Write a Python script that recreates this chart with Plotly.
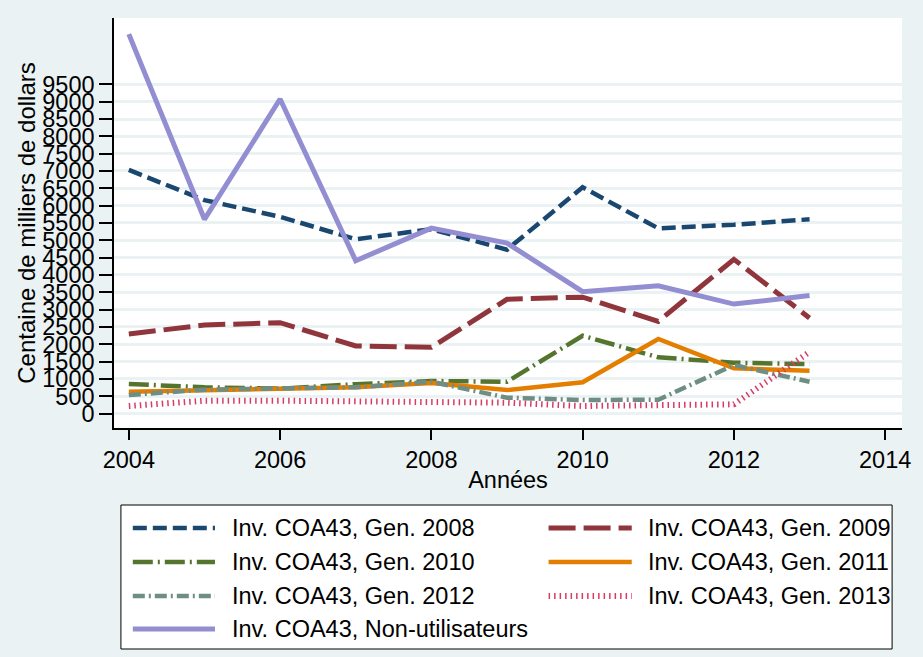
import plotly.graph_objects as go

years = [2004, 2005, 2006, 2007, 2008, 2009, 2010, 2011, 2012, 2013]

gen2008 = [7030, 6160, 5680, 5030, 5320, 4730, 6530, 5346, 5450, 5606]
gen2009 = [2296, 2556, 2623, 1950, 1913, 3298, 3360, 2660, 4451, 2760]
gen2010 = [854, 760, 720, 850, 940, 920, 2247, 1624, 1469, 1425]
gen2011 = [632, 680, 700, 760, 880, 681, 903, 2152, 1307, 1235]
gen2012 = [537, 690, 728, 760, 920, 459, 392, 400, 1402, 920]
gen2013 = [219, 372, 372, 340, 315, 315, 219, 240, 268, 1780]
nonutil = [10950, 5606, 9076, 4411, 5350, 4920, 3517, 3690, 3160, 3405]

names = [
    "Inv. COA43, Gen. 2008",
    "Inv. COA43, Gen. 2009",
    "Inv. COA43, Gen. 2010",
    "Inv. COA43, Gen. 2011",
    "Inv. COA43, Gen. 2012",
    "Inv. COA43, Gen. 2013",
    "Inv. COA43, Non-utilisateurs",
]
series = [gen2008, gen2009, gen2010, gen2011, gen2012, gen2013, nonutil]

y_ticks = list(range(0, 10000, 500))
x_ticks = [2004, 2006, 2008, 2010, 2012, 2014]

colors = ["rgb(26,71,111)", "rgb(144,53,59)", "rgb(85,117,47)", "rgb(227,126,0)",
          "rgb(110,142,132)", "rgb(215,60,100)", "rgb(147,141,210)"]
dashes = ["14px,6px", "27px,8px", "20px,5px,2px,5px", "solid",
          "12px,4px,2px,4px", "1.5px,4px", "solid"]
widths = [4.5, 5, 4.5, 4.5, 4.5, 6, 5]

FONT = "Liberation Sans, Arial, sans-serif"

fig = go.Figure()
for name, vals, c, d, w in zip(names, series, colors, dashes, widths):
    fig.add_trace(go.Scatter(x=years, y=vals, mode="lines", name=name,
                             line=dict(color=c, dash=d, width=w),
                             showlegend=False))

# plot area in pixels
L, R, T, B = 114, 13, 18, 229
W, H = 923, 657
pw = W - L - R
ph = H - T - B
bottom_px = H - B


def px_x(px):
    return (px - L) / pw


def px_y(py):
    return (bottom_px - py) / ph


shapes = []
annotations = []
# legend box
shapes.append(dict(type="rect", xref="paper", yref="paper",
                   x0=px_x(121), x1=px_x(900), y0=px_y(649), y1=px_y(505),
                   line=dict(color="black", width=1), fillcolor="white", layer="above"))
rows = [528, 562, 596, 629]
cols = [(133, 216, 231), (553, 637, 651)]
for i, (name, c, d, w) in enumerate(zip(names, colors, dashes, widths)):
    r = rows[i // 2]
    x0, x1, xt = cols[i % 2]
    shapes.append(dict(type="line", xref="paper", yref="paper",
                       x0=px_x(x0), x1=px_x(x1), y0=px_y(r), y1=px_y(r),
                       line=dict(color=c, dash=d, width=w), layer="above"))
    annotations.append(dict(xref="paper", yref="paper", x=px_x(xt), y=px_y(r),
                            text=name, showarrow=False, xanchor="left", yanchor="middle",
                            font=dict(family=FONT, size=23.5, color="black")))

fig.update_layout(
    width=W, height=H,
    margin=dict(l=L, r=R, t=T, b=B, pad=0),
    paper_bgcolor="rgb(234,242,243)",
    plot_bgcolor="white",
    font=dict(family=FONT, size=23.5, color="black"),
    shapes=shapes,
    annotations=annotations,
    showlegend=False,
)
fig.update_xaxes(
    range=[2003.804, 2014.2225], tickvals=x_ticks, ticktext=[str(t) for t in x_ticks],
    showgrid=False, zeroline=False, showline=True, linecolor="black", linewidth=1.5,
    ticks="outside", ticklen=10, tickwidth=1.5, tickcolor="black",
    tickfont=dict(family=FONT, size=23.5),
    title=dict(text="Années", font=dict(family=FONT, size=23.5), standoff=0),
)
fig.update_yaxes(
    range=[-415.5, 11414], tickvals=y_ticks, ticktext=[str(t) for t in y_ticks],
    showgrid=True, gridcolor="rgb(234,242,243)", gridwidth=2.5, zeroline=False,
    showline=True, linecolor="black", linewidth=1.5,
    ticks="outside", ticklen=13, tickwidth=1.5, tickcolor="black",
    tickfont=dict(family=FONT, size=23.5),
    title=dict(text="Centaine de milliers de dollars", font=dict(family=FONT, size=24), standoff=0),
)

fig.write_html("out.html", config={"displayModeBar": False},
               post_script="document.body.style.margin='0';document.body.style.background='rgb(234,242,243)';")
